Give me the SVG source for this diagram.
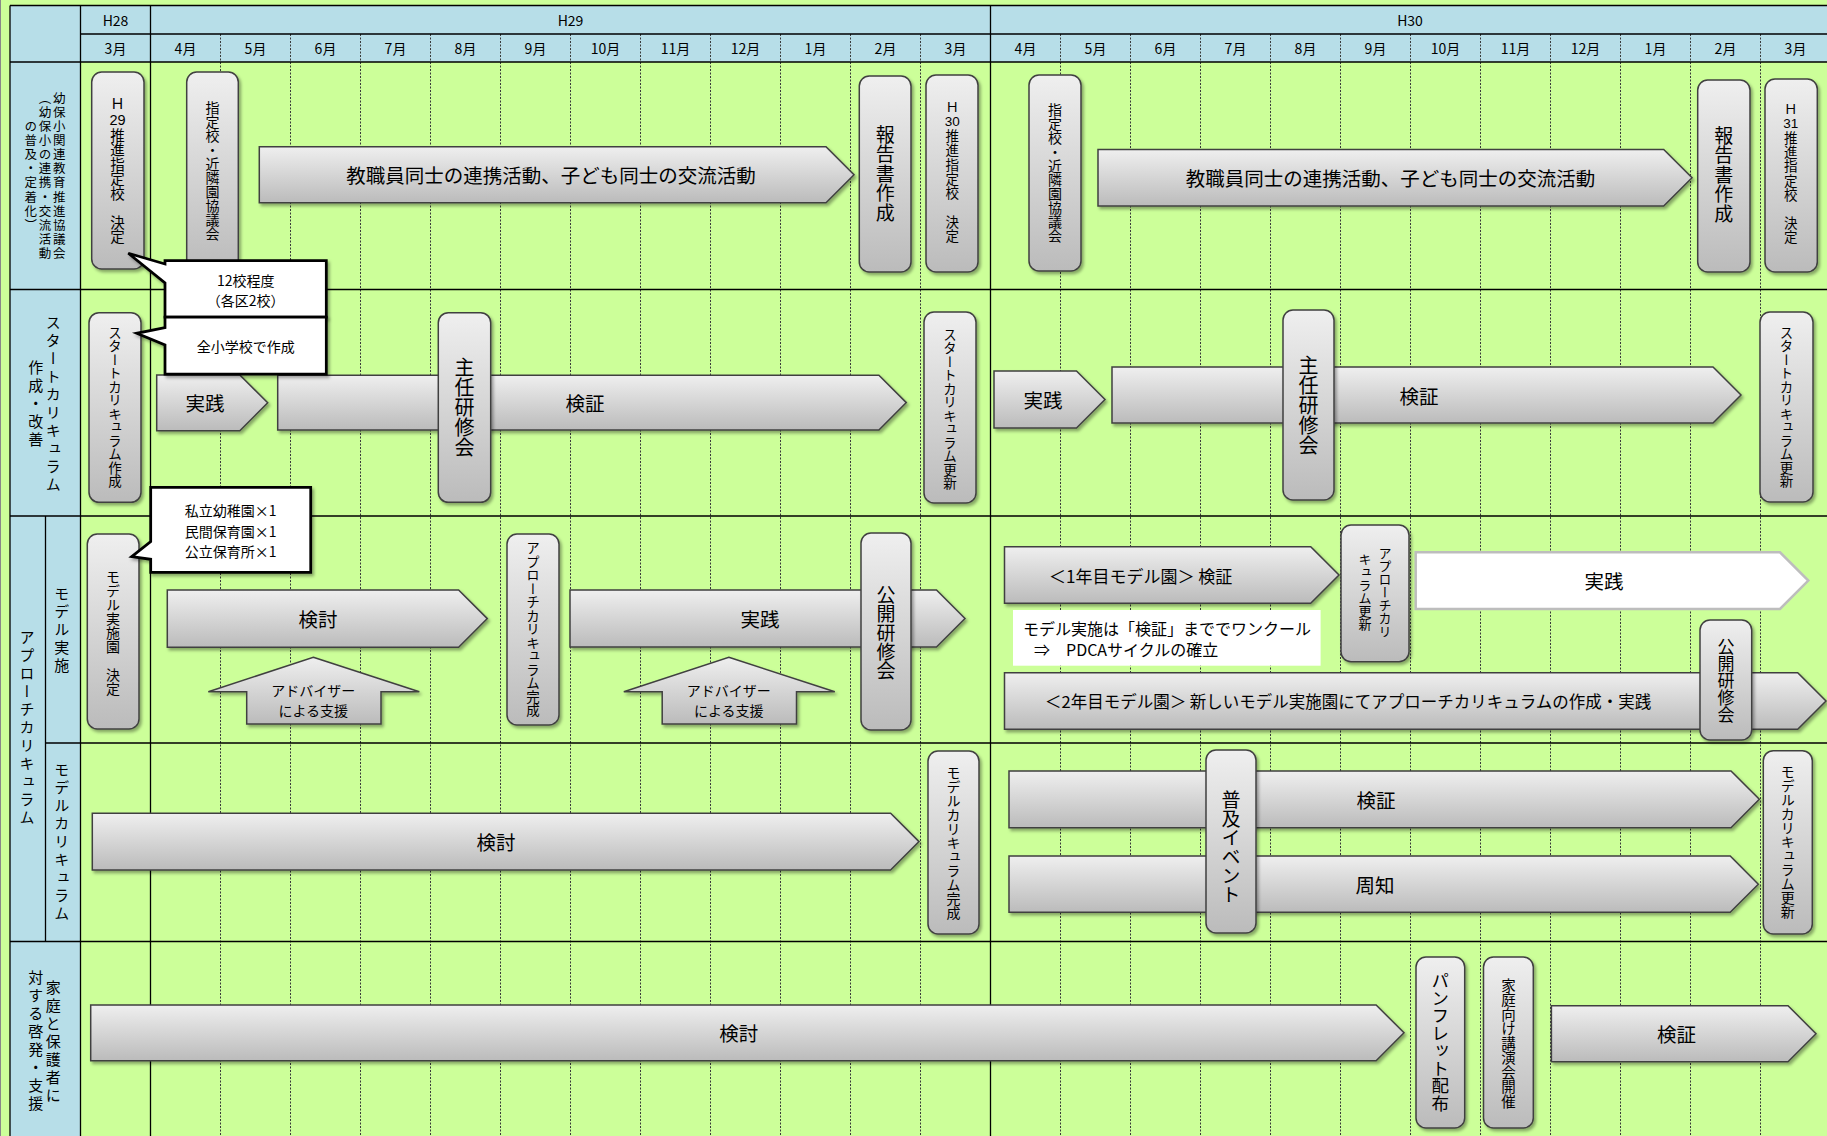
<svg xmlns="http://www.w3.org/2000/svg" width="1827" height="1136" viewBox="0 0 1827 1136">
<defs>
<linearGradient id="g" x1="0" y1="0" x2="0" y2="1">
<stop offset="0" stop-color="#EFEFEF"/>
<stop offset="1" stop-color="#BBBBBB"/>
</linearGradient>
<filter id="sh" x="-10%" y="-10%" width="130%" height="130%">
<feDropShadow dx="2" dy="2.5" stdDeviation="1.5" flood-color="#000" flood-opacity="0.35"/>
</filter>
</defs>
<style>
text{font-family:"Noto Sans CJK JP","Noto Sans",sans-serif;fill:#000}
.c{text-anchor:middle;dominant-baseline:central}
.s{dominant-baseline:central}
.v{writing-mode:vertical-rl;text-anchor:middle}
.vs{writing-mode:vertical-rl;text-anchor:start}
.num{font-family:"Liberation Sans",Arial,sans-serif;text-anchor:middle;dominant-baseline:central}
.ln{stroke:#000;stroke-width:1.3;fill:none}
.dl{stroke:#3a3a3a;stroke-width:1;stroke-dasharray:2 1.5;fill:none}
.box{fill:url(#g);stroke:#404040;stroke-width:1.5;filter:url(#sh)}
.call{fill:#fff;stroke:#000;stroke-width:2.75;filter:url(#sh)}
.wa{fill:#fff;stroke:#BDBDBD;stroke-width:2.5}
.hdr{font-size:14px}
.lh{font-size:15px;letter-spacing:3px}
</style>

<g id="grid">
<rect x="0" y="0" width="1827" height="1136" fill="#CCFF99"/>
<rect x="10" y="5.5" width="1817" height="56.5" fill="#B7DEE8"/>
<rect x="10" y="62" width="70.5" height="1074" fill="#B7DEE8"/>
<line x1="0.5" y1="0" x2="0.5" y2="1136" stroke="#888" stroke-width="1"/>
<g class="dl">
<path d="M220.5 34V1136M290.5 34V1136M360.5 34V1136M430.5 34V1136M500.5 34V1136M570.5 34V1136M640.5 34V1136M710.5 34V1136M780.5 34V1136M850.5 34V1136M920.5 34V1136"/>
<path d="M1060.5 34V1136M1130.5 34V1136M1200.5 34V1136M1270.5 34V1136M1340.5 34V1136M1410.5 34V1136M1480.5 34V1136M1550.5 34V1136M1620.5 34V1136M1690.5 34V1136M1760.5 34V1136"/>
</g>
<g class="ln">
<path d="M10 5.5H1827M80.5 34H1827M10 62H1827M10 289.5H1827M10 516H1827M45.5 743H1827M10 941.5H1827"/>
<path d="M10 5.5V1136M80.5 5.5V1136M150.5 5.5V1136M990.5 5.5V1136M45.5 516V941.5"/>
</g>
</g>

<g id="header-labels">
<text class="c hdr" x="115.5" y="20">H28</text>
<text class="c hdr" x="570.5" y="20">H29</text>
<text class="c hdr" x="1410" y="20">H30</text>
<text class="c hdr" x="115.5" y="48">3月</text>
<text class="c hdr" x="185.5" y="48">4月</text>
<text class="c hdr" x="255.5" y="48">5月</text>
<text class="c hdr" x="325.5" y="48">6月</text>
<text class="c hdr" x="395.5" y="48">7月</text>
<text class="c hdr" x="465.5" y="48">8月</text>
<text class="c hdr" x="535.5" y="48">9月</text>
<text class="c hdr" x="605.5" y="48">10月</text>
<text class="c hdr" x="675.5" y="48">11月</text>
<text class="c hdr" x="745.5" y="48">12月</text>
<text class="c hdr" x="815.5" y="48">1月</text>
<text class="c hdr" x="885.5" y="48">2月</text>
<text class="c hdr" x="955.5" y="48">3月</text>
<text class="c hdr" x="1025.5" y="48">4月</text>
<text class="c hdr" x="1095.5" y="48">5月</text>
<text class="c hdr" x="1165.5" y="48">6月</text>
<text class="c hdr" x="1235.5" y="48">7月</text>
<text class="c hdr" x="1305.5" y="48">8月</text>
<text class="c hdr" x="1375.5" y="48">9月</text>
<text class="c hdr" x="1445.5" y="48">10月</text>
<text class="c hdr" x="1515.5" y="48">11月</text>
<text class="c hdr" x="1585.5" y="48">12月</text>
<text class="c hdr" x="1655.5" y="48">1月</text>
<text class="c hdr" x="1725.5" y="48">2月</text>
<text class="c hdr" x="1795.5" y="48">3月</text>
</g>

<g id="row-labels">
<text class="v" x="59.3" y="176.5" font-size="12.5" letter-spacing="1.6">幼保小関連教育推進協議会</text>
<text class="v" x="45" y="176.5" font-size="12.5" letter-spacing="1.6">（幼保小の連携・交流活動</text>
<text class="v" x="30.7" y="176.5" font-size="12.5" letter-spacing="1.6">の普及・定着化）</text>
<text class="v lh" x="53.3" y="405">スタートカリキュラム</text>
<text class="v lh" x="35.7" y="405">作成・改善</text>
<text class="v lh" x="27" y="729" letter-spacing="4">アプローチカリキュラム</text>
<text class="v lh" x="61.7" y="631" letter-spacing="2.5">モデル実施</text>
<text class="v lh" x="61.7" y="843">モデルカリキュラム</text>
<text class="v lh" x="53.3" y="1043">家庭と保護者に</text>
<text class="v lh" x="35.7" y="1042">対する啓発・支援</text>
</g>

<g id="connectors"></g>

<g id="a-renkei-h29">
<path class="box" d="M259.3 146.7H826L854 174.7L826 202.7H259.3Z"/>
<text class="c" x="551" y="174.7" font-size="19.5">教職員同士の連携活動、子ども同士の交流活動</text>
</g>
<g id="a-renkei-h30">
<path class="box" d="M1098 149.5H1663.7L1692 177.7L1663.7 206H1098Z"/>
<text class="c" x="1390.5" y="177.7" font-size="19.5">教職員同士の連携活動、子ども同士の交流活動</text>
</g>
<g id="n-h29-kettei">
<rect class="box" x="91.7" y="72" width="52.3" height="197" rx="10"/>
<text class="v" x="117.5" y="104" font-size="14.5">Ｈ</text>
<text class="num" x="117.5" y="119.5" font-size="14.5">29</text>
<text class="vs" x="117.5" y="127.8" font-size="14.5">推進指定校　決定</text>
</g>
<g id="n-kyogikai-h29">
<rect class="box" x="186.7" y="72" width="51.6" height="198" rx="10"/>
<text class="v" x="212.5" y="171" font-size="14">指定校・近隣園協議会</text>
</g>
<g id="n-hokoku-h29">
<rect class="box" x="859.3" y="76" width="51.7" height="196" rx="10"/>
<text class="v" x="885.2" y="174" font-size="19" letter-spacing="0.5">報告書作成</text>
</g>
<g id="n-h30-kettei">
<rect class="box" x="926" y="75" width="52" height="197" rx="10"/>
<text class="v" x="952.3" y="107" font-size="13.5">Ｈ</text>
<text class="num" x="952.3" y="121.5" font-size="13.5">30</text>
<text class="vs" x="952.3" y="129.3" font-size="13.5" letter-spacing="0.8">推進指定校　決定</text>
</g>
<g id="n-kyogikai-h30">
<rect class="box" x="1029" y="75" width="52" height="196" rx="10"/>
<text class="v" x="1055" y="173" font-size="14">指定校・近隣園協議会</text>
</g>
<g id="n-hokoku-h30">
<rect class="box" x="1697.7" y="80" width="52.3" height="192" rx="10"/>
<text class="v" x="1723.8" y="175" font-size="19" letter-spacing="0.5">報告書作成</text>
</g>
<g id="n-h31-kettei">
<rect class="box" x="1765" y="79" width="52.3" height="193" rx="10"/>
<text class="v" x="1790.7" y="109" font-size="13.5">Ｈ</text>
<text class="num" x="1790.7" y="123.6" font-size="13.5">31</text>
<text class="vs" x="1790.7" y="131.4" font-size="13.5" letter-spacing="0.6">推進指定校　決定</text>
</g>

<g id="a-jissen-r2-h29">
<path class="box" d="M156.7 375H239.8L267.7 402.8L239.8 430.7H156.7Z"/>
<text class="c" x="205" y="402.8" font-size="19.5">実践</text>
</g>
<g id="a-kensho-r2-h29">
<path class="box" d="M277.7 375.2H878.9L906.3 402.6L878.9 430H277.7Z"/>
<text class="c" x="585" y="402.6" font-size="19.5">検証</text>
</g>
<g id="a-jissen-r2-h30">
<path class="box" d="M994 371H1076.5L1105 399.5L1076.5 428H994Z"/>
<text class="c" x="1043" y="399.5" font-size="19.5">実践</text>
</g>
<g id="a-kensho-r2-h30">
<path class="box" d="M1112 367H1713L1741 395L1713 423H1112Z"/>
<text class="c" x="1419" y="395" font-size="19.5">検証</text>
</g>
<g id="n-start-sakusei">
<rect class="box" x="89" y="312.7" width="52" height="189.6" rx="10"/>
<text class="v" x="115" y="407" font-size="13.5">スタートカリキュラム作成</text>
</g>
<g id="n-shunin-h29">
<rect class="box" x="438.3" y="312.7" width="52.4" height="189.6" rx="10"/>
<text class="v" x="464.5" y="407.5" font-size="20">主任研修会</text>
</g>
<g id="n-start-koshin-h29">
<rect class="box" x="924" y="312" width="52" height="191" rx="10"/>
<text class="v" x="950" y="409" font-size="13.5">スタートカリキュラム更新</text>
</g>
<g id="n-shunin-h30">
<rect class="box" x="1283" y="310" width="51" height="190" rx="10"/>
<text class="v" x="1308.5" y="405" font-size="20">主任研修会</text>
</g>
<g id="n-start-koshin-h30">
<rect class="box" x="1760" y="312" width="53" height="190" rx="10"/>
<text class="v" x="1786.5" y="407" font-size="13.5">スタートカリキュラム更新</text>
</g>

<g id="a-kento-r3">
<path class="box" d="M167.3 590H458.6L487.3 618.6L458.6 647.3H167.3Z"/>
<text class="c" x="318" y="618.6" font-size="19.5">検討</text>
</g>
<g id="a-jissen-r3-h29">
<path class="box" d="M570 590H936.5L965 618.5L936.5 647H570Z"/>
<text class="c" x="760" y="618.5" font-size="19.5">実践</text>
</g>
<g id="a-1nenme">
<path class="box" d="M1004.5 546.7H1310.7L1339 575L1310.7 603.3H1004.5Z"/>
<text class="s" x="1049" y="575" font-size="17">＜1年目モデル園＞ 検証</text>
</g>
<g id="a-jissen-white">
<path class="wa" d="M1415.7 552.3H1780L1808.3 580.6L1780 609H1415.7Z"/>
<text class="c" x="1604" y="580.6" font-size="19.5">実践</text>
</g>
<g id="a-2nenme">
<path class="box" d="M1004.5 672.7H1797.7L1826 701L1797.7 729.3H1004.5Z"/>
<text class="s" x="1045" y="701" font-size="16.5">＜2年目モデル園＞ 新しいモデル実施園にてアプローチカリキュラムの作成・実践</text>
</g>
<g id="u-adviser-1">
<path class="box" d="M313.3 657.3L419.3 691.7H381V724H246.7V691.7H208.3Z"/>
<text class="c" x="313.3" y="690" font-size="14">アドバイザー</text>
<text class="c" x="313.3" y="710" font-size="14">による支援</text>
</g>
<g id="u-adviser-2">
<path class="box" d="M728.8 657.3L834.8 691.7H796.5V724H662.2V691.7H623.8Z"/>
<text class="c" x="728.8" y="690" font-size="14">アドバイザー</text>
<text class="c" x="728.8" y="710" font-size="14">による支援</text>
</g>
<g id="n-model-kettei">
<rect class="box" x="87.3" y="534" width="51.7" height="195" rx="10"/>
<text class="v" x="113" y="633" font-size="14">モデル実施園　決定</text>
</g>
<g id="n-approach-kansei">
<rect class="box" x="507" y="534" width="52" height="191" rx="10"/>
<text class="v" x="533" y="629" font-size="13.5">アプローチカリキュラム完成</text>
</g>
<g id="n-kokai-h29">
<rect class="box" x="861" y="533" width="50" height="197" rx="10"/>
<text class="v" x="886" y="633" font-size="19">公開研修会</text>
</g>
<g id="n-approach-koshin">
<rect class="box" x="1341" y="525" width="68" height="136.7" rx="10"/>
<text class="v" x="1385" y="592" font-size="13">アプローチカリ</text>
<text class="v" x="1365" y="592" font-size="13">キュラム更新</text>
</g>
<g id="n-kokai-h30">
<rect class="box" x="1700" y="620" width="51.7" height="120" rx="10"/>
<text class="v" x="1726" y="680.5" font-size="17">公開研修会</text>
</g>
<g id="t-pdca">
<rect x="1013" y="610" width="307.6" height="55.7" fill="#fff"/>
<text class="s" x="1023" y="627.7" font-size="16">モデル実施は「検証」まででワンクール</text>
<text class="s" x="1034" y="649" font-size="16">⇒　PDCAサイクルの確立</text>
</g>

<g id="a-kento-r4">
<path class="box" d="M92.3 813.3H890.6L919 841.6L890.6 870H92.3Z"/>
<text class="c" x="496" y="841.6" font-size="19.5">検討</text>
</g>
<g id="a-kensho-r4">
<path class="box" d="M1009 771H1731L1759.3 799.3L1731 827.7H1009Z"/>
<text class="c" x="1376" y="799.3" font-size="19.5">検証</text>
</g>
<g id="a-shuchi-r4">
<path class="box" d="M1009 856H1730.2L1758.3 884.2L1730.2 912.3H1009Z"/>
<text class="c" x="1375" y="884.2" font-size="19.5">周知</text>
</g>
<g id="n-model-kansei">
<rect class="box" x="928" y="751" width="51" height="183" rx="10"/>
<text class="v" x="953.5" y="843" font-size="14">モデルカリキュラム完成</text>
</g>
<g id="n-fukyu-event">
<rect class="box" x="1206" y="750" width="50" height="183" rx="10"/>
<text class="v" x="1231" y="847" font-size="19">普及イベント</text>
</g>
<g id="n-model-koshin">
<rect class="box" x="1763.3" y="750.7" width="49" height="183.3" rx="10"/>
<text class="v" x="1787.8" y="842" font-size="14">モデルカリキュラム更新</text>
</g>

<g id="a-kento-r5">
<path class="box" d="M90.7 1005H1376.1L1404 1032.8L1376.1 1060.7H90.7Z"/>
<text class="c" x="738.7" y="1032.8" font-size="19.5">検討</text>
</g>
<g id="a-kensho-r5">
<path class="box" d="M1551.4 1005.7H1788L1816 1033.7L1788 1061.8H1551.4Z"/>
<text class="c" x="1676.5" y="1033.7" font-size="19.5">検証</text>
</g>
<g id="n-pamphlet">
<rect class="box" x="1416" y="957" width="48.7" height="171" rx="10"/>
<text class="v" x="1440.3" y="1042" font-size="17.5">パンフレット配布</text>
</g>
<g id="n-koenkai">
<rect class="box" x="1483.5" y="957" width="49.8" height="171" rx="10"/>
<text class="v" x="1508.4" y="1043" font-size="14.5">家庭向け講演会開催</text>
</g>

<g id="c-12ko">
<path class="call" d="M165 260.7H326.3V317H165V283L128.3 253.3L165 264Z"/>
<text class="c" x="245.7" y="280" font-size="14">12校程度</text>
<text class="c" x="245.7" y="300" font-size="14">（各区2校）</text>
</g>
<g id="c-zensho">
<path class="call" d="M165 317H326.3V374H165V345L136.7 333.3L165 327.7Z"/>
<text class="c" x="245.7" y="346" font-size="14">全小学校で作成</text>
</g>
<g id="c-model-en">
<path class="call" d="M150.7 487.3H310.7V572.3H150.7V559.3L131.7 556.7L150.7 541.7Z"/>
<text class="c" x="230.7" y="510" font-size="14">私立幼稚園×1</text>
<text class="c" x="230.7" y="530.5" font-size="14">民間保育園×1</text>
<text class="c" x="230.7" y="550.5" font-size="14">公立保育所×1</text>
</g>
</svg>
